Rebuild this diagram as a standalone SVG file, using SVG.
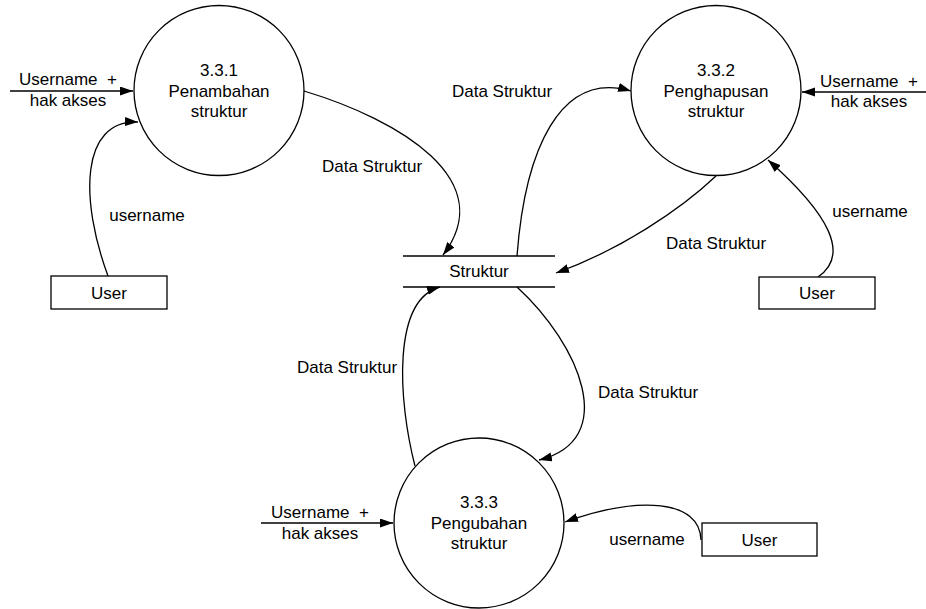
<svg xmlns="http://www.w3.org/2000/svg" width="926" height="609" viewBox="0 0 926 609">
<style>
  text { font-family: "Liberation Sans", Arial, sans-serif; font-size: 17px; fill: #000; text-anchor: middle; white-space: pre; }
  .proc { fill: #fff; stroke: #000; stroke-width: 1.3; }
  .ent { fill: #fff; stroke: #000; stroke-width: 1.3; }
  .store { stroke: #000; stroke-width: 1.3; fill: none; }
  .flow { fill: none; stroke: #000; stroke-width: 1.3; marker-end: url(#arrow); }
</style>
<defs>
  <marker id="arrow" markerUnits="userSpaceOnUse" markerWidth="14" markerHeight="10" refX="13" refY="4.5" orient="auto">
    <path d="M0,0 L13,4.5 L0,9 z" fill="#000"/>
  </marker>
</defs>
<rect width="926" height="609" fill="#fff"/>

<g id="connectors">
  <path class="flow" d="M10,91 L133,91"/>
  <path class="flow" d="M926,92 L802,92"/>
  <path class="flow" d="M261,523 L393,523"/>
  <path class="flow" d="M108,276 C 80,200 80,120 138,122"/>
  <path class="flow" d="M304,91 C 400,120 500,180 443,255"/>
  <path class="flow" d="M517,256 C 525,150 560,70 631,91"/>
  <path class="flow" d="M716,176 C 680,210 620,250 556,273"/>
  <path class="flow" d="M818,277 C 850,255 830,215 768,160"/>
  <path class="flow" d="M415,466 C 398,400 392,300 440,287"/>
  <path class="flow" d="M517,287 C 580,345 620,440 539,460"/>
  <path class="flow" d="M701,540 C 700,500 640,495 565,522"/>
  <text x="68" y="85">Username  +</text>
  <text x="68" y="106">hak akses</text>
  <text x="869" y="87">Username  +</text>
  <text x="869" y="107">hak akses</text>
  <text x="320" y="518">Username  +</text>
  <text x="320" y="539">hak akses</text>
  <text x="147" y="221">username</text>
  <text x="372" y="172">Data Struktur</text>
  <text x="502" y="97">Data Struktur</text>
  <text x="870" y="217">username</text>
  <text x="716" y="249">Data Struktur</text>
  <text x="347" y="373">Data Struktur</text>
  <text x="648" y="398">Data Struktur</text>
  <text x="647" y="545">username</text>
</g>

<g id="p331">
  <circle class="proc" cx="219" cy="90.5" r="85"/>
  <text x="219" y="76">3.3.1</text>
  <text x="219" y="97">Penambahan</text>
  <text x="219" y="117">struktur</text>
</g>
<g id="p332">
  <circle class="proc" cx="716" cy="90.5" r="85"/>
  <text x="716" y="76">3.3.2</text>
  <text x="716" y="97">Penghapusan</text>
  <text x="716" y="117">struktur</text>
</g>
<g id="p333">
  <circle class="proc" cx="479" cy="523" r="85"/>
  <text x="479" y="507.5">3.3.3</text>
  <text x="479" y="528.5">Pengubahan</text>
  <text x="479" y="549">struktur</text>
</g>

<g id="store-struktur">
  <line class="store" x1="403" y1="256" x2="555" y2="256"/>
  <line class="store" x1="403" y1="287" x2="555" y2="287"/>
  <text x="479" y="277">Struktur</text>
</g>

<g id="user1">
  <rect class="ent" x="51" y="276" width="116" height="33"/>
  <text x="109" y="298.5">User</text>
</g>
<g id="user2">
  <rect class="ent" x="759" y="277" width="116" height="32"/>
  <text x="817" y="299">User</text>
</g>
<g id="user3">
  <rect class="ent" x="702" y="523" width="115" height="33"/>
  <text x="759.5" y="545.5">User</text>
</g>
</svg>
